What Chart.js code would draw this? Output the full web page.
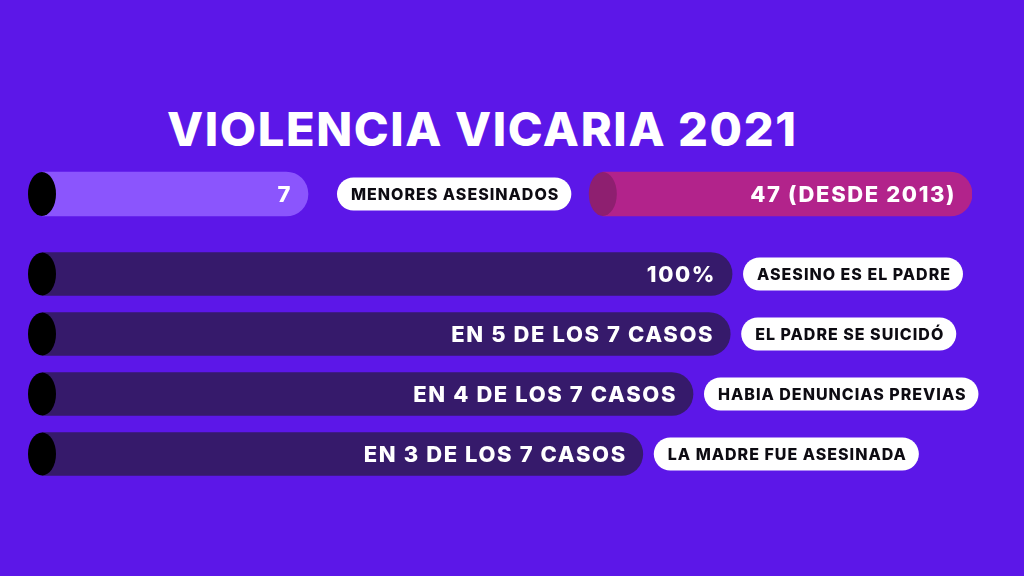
<!DOCTYPE html>
<html lang="es">
<head>
<meta charset="utf-8">
<title>Violencia vicaria 2021</title>
<script src="https://cdn.jsdelivr.net/npm/chart.js@4.4.1/dist/chart.umd.min.js"></script>
<style>
    html, body { margin: 0; padding: 0; }
    body {
        width: 1024px;
        height: 576px;
        background: #5c17e8;
        position: relative;
        overflow: hidden;
        font-family: Inter, "Open Sans", sans-serif;
    }
    h1 {
        position: absolute;
        left: 167px;
        top: 101px;
        margin: 0;
        color: #ffffff;
        font-size: 47px;
        font-weight: 800;
        line-height: 56px;
        letter-spacing: 1.6px;
        white-space: nowrap;
    }
    .chart-box { position: absolute; left: 0; width: 1024px; }
    #top-box { top: 150px; height: 88px; }
    #rows-box { top: 244px; height: 240px; }
</style>
</head>
<body>
<h1>VIOLENCIA VICARIA 2021</h1>
<div class="chart-box" id="top-box"><canvas id="top-chart"></canvas></div>
<div class="chart-box" id="rows-box"><canvas id="rows-chart"></canvas></div>

<script>
// fila superior: menores asesinados en 2021 y acumulado desde 2013
const topCategories = ['MENORES ASESINADOS'];
const menoresBar = [28.6];              // largo de la barra (escala 0-100)
const desde2013Bar = [[60.3, 100]];     // barra flotante de la derecha
const menoresText = ['7'];
const desde2013Text = ['47 (DESDE 2013)'];
const menoresTags = ['MENORES ASESINADOS'];

// filas inferiores
const rowTags = ['ASESINO ES EL PADRE', 'EL PADRE SE SUICIDÓ', 'HABIA DENUNCIAS PREVIAS', 'LA MADRE FUE ASESINADA'];
const rowText = ['100%', 'EN 5 DE LOS 7 CASOS', 'EN 4 DE LOS 7 CASOS', 'EN 3 DE LOS 7 CASOS'];
const rowBars = [74.2, 74.0, 70.0, 64.6];

const FONT = 'Inter, "Open Sans", sans-serif';

function roundedRect(ctx, x, y, w, h, r) {
    ctx.beginPath();
    ctx.moveTo(x + r, y);
    ctx.lineTo(x + w - r, y);
    ctx.arc(x + w - r, y + r, r, -Math.PI / 2, Math.PI / 2);
    ctx.lineTo(x + r, y + h);
    ctx.arc(x + r, y + r, r, Math.PI / 2, Math.PI * 1.5);
    ctx.closePath();
}

// tapas elípticas, texto dentro de la barra y etiqueta blanca
const infoPlugin = {
    id: 'infoBars',
    afterDatasetsDraw(chart, args, opts) {
        const ctx = chart.ctx;
        chart.data.datasets.forEach((ds, di) => {
            const meta = chart.getDatasetMeta(di);
            meta.data.forEach((bar, i) => {
                const { x, y, base, height } = bar.getProps(['x', 'y', 'base', 'height'], true);
                ctx.save();

                // tapa
                ctx.fillStyle = ds.capColor;
                ctx.beginPath();
                ctx.ellipse(base, y, 14, height / 2, 0, 0, Math.PI * 2);
                ctx.fill();

                // texto dentro
                ctx.fillStyle = '#ffffff';
                ctx.font = `800 ${opts.valueSize}px ${FONT}`;
                ctx.letterSpacing = '1.6px';
                ctx.textAlign = 'right';
                ctx.textBaseline = 'middle';
                ctx.fillText(ds.valueText[i], x - 16, y + 1);

                // etiqueta
                if (ds.tags) {
                    ctx.font = `800 ${opts.tagSize}px ${FONT}`;
                    ctx.letterSpacing = '1px';
                    const tw = ctx.measureText(ds.tags[i]).width;
                    const pillH = 33;
                    const left = x + opts.tagGap;
                    roundedRect(ctx, left, y - pillH / 2, tw + 26, pillH, pillH / 2);
                    ctx.fillStyle = '#ffffff';
                    ctx.fill();
                    ctx.fillStyle = '#0d0b12';
                    ctx.textAlign = 'left';
                    ctx.fillText(ds.tags[i], left + 14, y + 1);
                }
                ctx.restore();
            });
        });
    }
};

const commonScales = {
    x: { type: 'linear', min: 0, max: 100, display: false },
    y: { display: false }
};

function commonOptions(pluginOpts) {
    return {
        indexAxis: 'y',
        responsive: true,
        maintainAspectRatio: false,
        animation: false,
        layout: { padding: { left: 42, right: 52, top: 0, bottom: 0 } },
        scales: commonScales,
        plugins: {
            legend: { display: false },
            tooltip: { enabled: false },
            infoBars: pluginOpts
        }
    };
}

new Chart(document.getElementById('top-chart'), {
    type: 'bar',
    data: {
        labels: topCategories,
        datasets: [{
            data: menoresBar,
            valueText: menoresText,
            tags: menoresTags,
            backgroundColor: '#8b55fd',
            capColor: '#000000',
            barThickness: 44,
            grouped: false,
            borderRadius: { topRight: 22, bottomRight: 22, topLeft: 0, bottomLeft: 0 },
            borderSkipped: false
        }, {
            data: desde2013Bar,
            valueText: desde2013Text,
            backgroundColor: '#b2238b',
            capColor: '#8e1f70',
            barThickness: 44,
            grouped: false,
            borderRadius: { topRight: 22, bottomRight: 22, topLeft: 0, bottomLeft: 0 },
            borderSkipped: false
        }]
    },
    options: commonOptions({ valueSize: 22, tagSize: 16, tagGap: 29 }),
    plugins: [infoPlugin]
});

new Chart(document.getElementById('rows-chart'), {
    type: 'bar',
    data: {
        labels: rowTags,
        datasets: [{
            data: rowBars,
            valueText: rowText,
            tags: rowTags,
            backgroundColor: '#361a6b',
            capColor: '#000000',
            barThickness: 43,
            borderRadius: { topRight: 22, bottomRight: 22, topLeft: 0, bottomLeft: 0 },
            borderSkipped: false
        }]
    },
    options: commonOptions({ valueSize: 22, tagSize: 16, tagGap: 11 }),
    plugins: [infoPlugin]
});
</script>
</body>
</html>
